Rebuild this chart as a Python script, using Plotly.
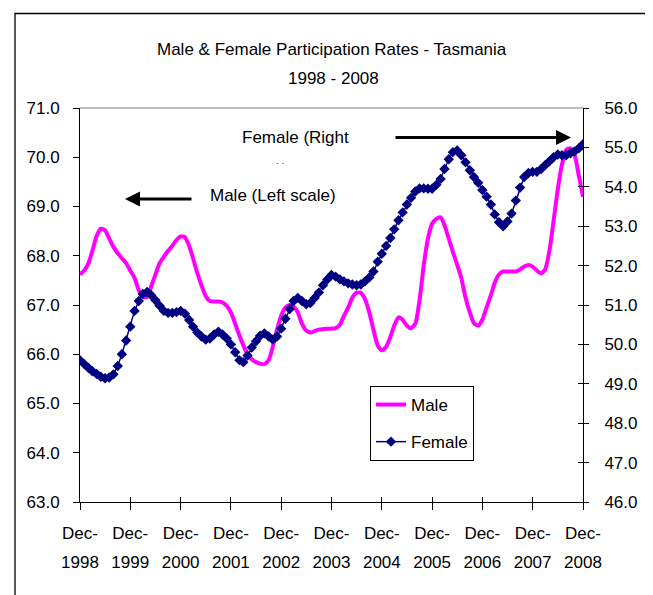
import plotly.graph_objects as go
import pandas as pd

# Monthly observations, Dec-1998 .. Dec-2008
months = pd.date_range("1998-12-01", periods=121, freq="MS")

male = [
    67.62, 67.70, 67.85, 68.10, 68.40, 68.55, 68.52, 68.35, 68.18, 68.05, 67.95, 67.85,
    67.70, 67.55, 67.30, 67.16, 67.16, 67.38, 67.62, 67.85, 67.98, 68.10, 68.20, 68.32,
    68.39, 68.38, 68.20, 67.95, 67.65, 67.40, 67.18, 67.08, 67.07, 67.07, 67.05, 66.98,
    66.85, 66.62, 66.38, 66.18, 66.00, 65.90, 65.84, 65.81, 65.80, 65.88, 66.15, 66.50,
    66.78, 66.95, 67.00, 66.97, 66.85, 66.62, 66.48, 66.44, 66.47, 66.50, 66.51, 66.52,
    66.52, 66.53, 66.60, 66.78, 66.95, 67.15, 67.25, 67.25, 67.12, 66.85, 66.50, 66.18,
    66.08, 66.15, 66.35, 66.58, 66.75, 66.70, 66.58, 66.53, 66.62, 67.10, 67.80, 68.35,
    68.65, 68.75, 68.78, 68.62, 68.35, 68.08, 67.82, 67.55, 67.15, 66.85, 66.63, 66.58,
    66.70, 66.95, 67.20, 67.45, 67.62, 67.68, 67.68, 67.68, 67.68, 67.72, 67.78, 67.81,
    67.78, 67.70, 67.64, 67.72, 68.10, 68.70, 69.35, 69.85, 70.15, 70.18, 70.05, 69.62,
    69.20,
]

female = [
    49.60, 49.50, 49.40, 49.32, 49.25, 49.18, 49.14, 49.16, 49.24, 49.45, 49.75, 50.10,
    50.45, 50.85, 51.10, 51.28, 51.33, 51.25, 51.12, 50.98, 50.85, 50.80, 50.80, 50.82,
    50.85, 50.78, 50.62, 50.45, 50.30, 50.20, 50.12, 50.15, 50.25, 50.32, 50.25, 50.15,
    50.00, 49.80, 49.60, 49.55, 49.72, 49.92, 50.08, 50.22, 50.28, 50.20, 50.12, 50.20,
    50.40, 50.65, 50.90, 51.10, 51.18, 51.10, 51.02, 51.05, 51.18, 51.32, 51.50, 51.65,
    51.76, 51.72, 51.65, 51.60, 51.55, 51.52, 51.50, 51.52, 51.60, 51.70, 51.85, 52.10,
    52.30, 52.50, 52.70, 52.92, 53.15, 53.35, 53.55, 53.72, 53.88, 53.96, 53.96, 53.95,
    53.95, 54.05, 54.20, 54.45, 54.70, 54.88, 54.92, 54.80, 54.62, 54.42, 54.25, 54.10,
    53.92, 53.75, 53.55, 53.30, 53.10, 53.00, 53.12, 53.32, 53.65, 53.98, 54.25, 54.35,
    54.38, 54.38, 54.45, 54.55, 54.65, 54.75, 54.82, 54.80, 54.80, 54.85, 54.90, 54.98,
    55.08,
]

tick_dates = ["1998-12-01", "1999-12-01", "2000-12-01", "2001-12-01", "2002-12-01", "2003-12-01",
              "2004-12-01", "2005-12-01", "2006-12-01", "2007-12-01", "2008-12-01"]
tick_month = ["Dec-"] * 11
tick_year = ["1998", "1999", "2000", "2001", "2002", "2003", "2004", "2005", "2006", "2007", "2008"]
left_ticks = [63.0, 64.0, 65.0, 66.0, 67.0, 68.0, 69.0, 70.0, 71.0]
right_ticks = [46.0, 47.0, 48.0, 49.0, 50.0, 51.0, 52.0, 53.0, 54.0, 55.0, 56.0]

FONT = "Arial, 'Liberation Sans', sans-serif"

fig = go.Figure()
fig.add_trace(go.Scatter(
    x=months, y=male, name="Male", mode="lines",
    line=dict(color="#FF00FF", width=4, shape="spline", smoothing=0.6),
    xaxis="x", yaxis="y", legendgroup="m",
))
fig.add_trace(go.Scatter(
    x=months, y=female, name="Female", mode="lines+markers",
    line=dict(color="#000080", width=1.5),
    marker=dict(symbol="diamond", size=8, color="#000080"),
    xaxis="x2", yaxis="y2", legendgroup="f",
))
# carrier for the inner half of the right-hand tick marks
fig.add_trace(go.Scatter(x=[None], y=[None], xaxis="x", yaxis="y3",
                         showlegend=False, hoverinfo="skip"))

xrange = [months[0], months[-1]]

# the page body adds an 8px offset, so the figure is 8px smaller each way
fig.update_layout(
    width=645, height=587,
    margin=dict(l=72, r=70, t=100, b=93),
    paper_bgcolor="white", plot_bgcolor="white",
    font=dict(family=FONT, size=17, color="black"),
    showlegend=True,
    legend=dict(
        x=(370 - 80) / 503, y=(502 - 386) / 394, xanchor="left", yanchor="top",
        bordercolor="black", borderwidth=1, bgcolor="white",
        font=dict(family=FONT, size=17, color="black"),
        traceorder="grouped", tracegroupgap=12,
    ),
    xaxis=dict(
        type="date", range=xrange, tickmode="array", tickvals=tick_dates, ticktext=tick_month,
        ticks="outside", ticklen=7, tickcolor="black", tickwidth=1,
        showline=True, linecolor="black", linewidth=1,
        showgrid=False, zeroline=False, ticklabelstandoff=9,
        tickfont=dict(family=FONT, size=17, color="black"), tickangle=0,
    ),
    xaxis2=dict(
        type="date", range=xrange, overlaying="x", anchor="y2", side="bottom",
        tickmode="array", tickvals=tick_dates, ticktext=tick_year,
        ticks="inside", ticklen=5, tickcolor="black", tickwidth=1,
        showline=False, showgrid=False, zeroline=False, ticklabelstandoff=48,
        tickfont=dict(family=FONT, size=17, color="black"), tickangle=0,
    ),
    yaxis=dict(
        range=[63, 71], tickmode="array", tickvals=left_ticks, tickformat=".1f",
        ticks="outside", ticklen=6, tickcolor="black",
        showline=True, linecolor="black", linewidth=1,
        showgrid=False, zeroline=False, ticklabelstandoff=10,
        tickfont=dict(family=FONT, size=17, color="black"),
    ),
    yaxis2=dict(
        range=[46, 56], overlaying="y", side="right", anchor="x2",
        tickmode="array", tickvals=right_ticks, tickformat=".1f",
        ticks="outside", ticklen=5, tickcolor="black",
        showline=True, linecolor="black", linewidth=1,
        showgrid=False, zeroline=False, ticklabelstandoff=12,
        tickfont=dict(family=FONT, size=17, color="black"),
    ),
    yaxis3=dict(
        range=[46, 56], overlaying="y", side="right", anchor="x",
        tickmode="array", tickvals=right_ticks, showticklabels=False,
        ticks="inside", ticklen=5, tickcolor="black",
        showline=False, showgrid=False, zeroline=False,
    ),
)

# plot-area top edge and outer chart frame
fig.add_shape(type="line", xref="paper", yref="paper", x0=0, x1=1, y0=1, y1=1,
              line=dict(color="#808080", width=1))
fig.add_shape(type="rect", xref="paper", yref="paper",
              x0=(15 - 80) / 503, x1=(648.5 - 80) / 503,
              y0=(502 - 620) / 394, y1=(502 - 13.5) / 394,
              line=dict(color="black", width=1.3), fillcolor="rgba(0,0,0,0)", layer="below")

def px_x(p):
    return (p - 80) / 503

def px_y(p):
    return (502 - p) / 394

annotations = [
    dict(text="Male & Female Participation Rates - Tasmania", x=px_x(332), y=px_y(49)),
    dict(text="1998 - 2008", x=px_x(333), y=px_y(78)),
    dict(text="Female (Right", x=px_x(295.5), y=px_y(137)),
    dict(text="Male (Left scale)", x=px_x(273), y=px_y(195)),
]
for a in annotations:
    fig.add_annotation(xref="paper", yref="paper", xanchor="center", yanchor="middle",
                       showarrow=False, font=dict(family=FONT, size=17, color="black"), **a)
fig.add_annotation(xref="paper", yref="paper", x=px_x(280), y=px_y(156), text="· ·",
                   showarrow=False, font=dict(family=FONT, size=9, color="#333333"))

# pointer arrows (page-pixel positions)
def arrow(x_tail, x_tip, y):
    fig.add_annotation(xref="paper", yref="paper", axref="pixel", ayref="pixel",
                       x=px_x(x_tip), y=px_y(y), ax=x_tail - x_tip, ay=0, text="",
                       showarrow=True, arrowhead=2, arrowsize=1.0, arrowwidth=3,
                       arrowcolor="black", standoff=0)

arrow(394, 571, 137.5)
arrow(193, 125, 199)

fig.write_html("out.html")
